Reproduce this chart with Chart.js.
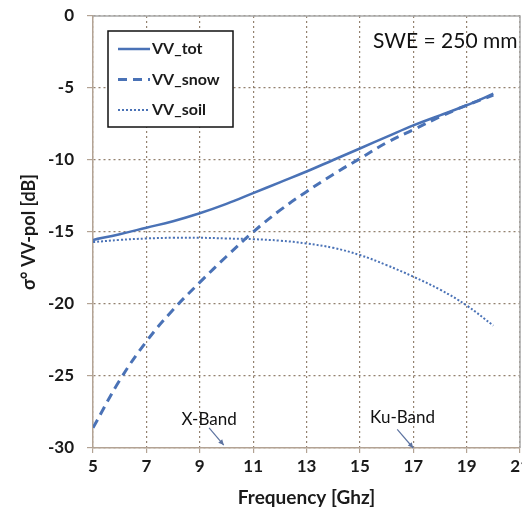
<!DOCTYPE html>
<html>
<head>
<meta charset="utf-8">
<script src="https://cdn.jsdelivr.net/npm/chart.js@4.4.0/dist/chart.umd.min.js"></script>
<style>
  body { margin: 0; background: #fff; }
</style>
</head>
<body>
<canvas id="chart" width="522" height="520"></canvas>
<script>
// Backscatter vs frequency, SWE = 250 mm
const freqs  = [5, 6, 7, 8, 9, 10, 11, 12, 13, 14, 15, 16, 17, 18, 19, 20];
const vvTot  = [-15.55, -15.15, -14.7, -14.25, -13.7, -13.05, -12.3, -11.55, -10.8, -10.0, -9.2, -8.4, -7.6, -6.9, -6.2, -5.4];
const vvSnow = [-28.6, -25.3, -22.6, -20.4, -18.5, -16.7, -15.0, -13.5, -12.2, -11.0, -9.9, -8.8, -7.9, -7.0, -6.2, -5.5];
const vvSoil = [-15.7, -15.55, -15.45, -15.4, -15.4, -15.45, -15.5, -15.6, -15.8, -16.1, -16.6, -17.3, -18.1, -19.0, -20.1, -21.5];
const xTicks = [5, 7, 9, 11, 13, 15, 17, 19, 21];
const yTicks = [0, -5, -10, -15, -20, -25, -30];

const BLUE = '#4a72b6';
const GRID = 'rgba(135,115,95,0.9)';
const AXIS = '#b3a394';
const FONT = 'Lato, "Open Sans", sans-serif';

Chart.defaults.font.family = FONT;
Chart.defaults.color = '#1a1a1a';

function points(ys) {
    return freqs.map((f, i) => ({ x: f, y: ys[i] }));
}

// frame, in-plot legend and text labels
const extras = {
    id: 'extras',
    afterDatasetsDraw(chart) {
        const { ctx, chartArea: a, scales: { x, y } } = chart;
        ctx.save();

        // top and right edges of the plot box
        ctx.strokeStyle = '#a9a9a9';
        ctx.lineWidth = 1.5;
        ctx.beginPath();
        ctx.moveTo(a.left, a.top);
        ctx.lineTo(a.right, a.top);
        ctx.lineTo(a.right, a.bottom);
        ctx.stroke();

        // legend box
        const lx = a.left + 15, ly = a.top + 15, lw = 125, lh = 96;
        ctx.fillStyle = '#fff';
        ctx.fillRect(lx, ly, lw, lh);
        ctx.strokeStyle = '#111';
        ctx.lineWidth = 1.5;
        ctx.strokeRect(lx, ly, lw, lh);
        ctx.font = 'bold 16px ' + FONT;
        ctx.textBaseline = 'middle';
        ctx.textAlign = 'left';
        chart.data.datasets.forEach((ds, i) => {
            const rowY = ly + 18 + i * 30.5;
            ctx.strokeStyle = ds.borderColor;
            ctx.lineWidth = ds.borderWidth;
            ctx.setLineDash(ds.borderDash || []);
            ctx.beginPath();
            ctx.moveTo(lx + 10, rowY);
            ctx.lineTo(lx + 42, rowY);
            ctx.stroke();
            ctx.setLineDash([]);
            ctx.fillStyle = '#1a1a1a';
            ctx.fillText(ds.label, lx + 44, rowY);
        });

        // SWE label
        ctx.font = '21px ' + FONT;
        ctx.textAlign = 'center';
        ctx.fillStyle = '#111';
        ctx.fillText('SWE = 250 mm', x.getPixelForValue(18.2), y.getPixelForValue(-1.75));

        // band markers with arrows
        const bands = [
            { text: 'X-Band', tx: 9.35, ty: -28.05, from: [9.35, -28.6], to: [9.9, -29.8] },
            { text: 'Ku-Band', tx: 16.6, ty: -27.9, from: [16.4, -28.7], to: [17.0, -30] }
        ];
        ctx.font = '17px ' + FONT;
        bands.forEach(b => {
            ctx.fillStyle = '#111';
            ctx.fillText(b.text, x.getPixelForValue(b.tx), y.getPixelForValue(b.ty));
            const x1 = x.getPixelForValue(b.from[0]), y1 = y.getPixelForValue(b.from[1]);
            const x2 = x.getPixelForValue(b.to[0]), y2 = y.getPixelForValue(b.to[1]);
            ctx.strokeStyle = '#5d73a0';
            ctx.fillStyle = '#5d73a0';
            ctx.lineWidth = 1.2;
            ctx.beginPath();
            ctx.moveTo(x1, y1);
            ctx.lineTo(x2, y2);
            ctx.stroke();
            const ang = Math.atan2(y2 - y1, x2 - x1);
            ctx.beginPath();
            ctx.moveTo(x2, y2);
            ctx.lineTo(x2 - 6 * Math.cos(ang - 0.45), y2 - 6 * Math.sin(ang - 0.45));
            ctx.lineTo(x2 - 6 * Math.cos(ang + 0.45), y2 - 6 * Math.sin(ang + 0.45));
            ctx.closePath();
            ctx.fill();
        });
        ctx.restore();
    }
};

new Chart(document.getElementById('chart'), {
    type: 'line',
    data: {
        datasets: [
            {
                label: 'VV_tot',
                data: points(vvTot),
                borderColor: BLUE,
                borderWidth: 2.5,
                pointRadius: 0,
                tension: 0.4
            },
            {
                label: 'VV_snow',
                data: points(vvSnow),
                borderColor: BLUE,
                borderWidth: 3,
                borderDash: [9, 6],
                pointRadius: 0,
                tension: 0.4
            },
            {
                label: 'VV_soil',
                data: points(vvSoil),
                borderColor: BLUE,
                borderWidth: 2,
                borderDash: [2, 2],
                pointRadius: 0,
                tension: 0.4
            }
        ]
    },
    options: {
        responsive: false,
        animation: false,
        layout: { padding: { top: 16, right: 2, left: 0, bottom: 0 } },
        plugins: {
            legend: { display: false },
            tooltip: { enabled: false }
        },
        scales: {
            x: {
                type: 'linear',
                min: 5,
                max: 21,
                afterBuildTicks: (axis) => { axis.ticks = xTicks.map(v => ({ value: v })); },
                afterFit: (axis) => { axis.height = 72; axis.paddingLeft = 0; axis.paddingRight = 0; },
                ticks: { font: { size: 17, weight: 'bold' }, padding: 3, maxRotation: 0, autoSkip: false },
                grid: { color: GRID, lineWidth: 1.2, tickLength: 5, tickColor: AXIS, tickBorderDash: [] },
                border: { color: AXIS, width: 1.5, dash: [2, 3] },
                title: {
                    display: true,
                    text: 'Frequency [Ghz]',
                    font: { size: 19, weight: 'bold' },
                    padding: { top: 0, bottom: 11 }
                }
            },
            y: {
                min: -30,
                max: 0,
                afterBuildTicks: (axis) => { axis.ticks = yTicks.map(v => ({ value: v })); },
                afterFit: (axis) => { axis.width = 93; axis.paddingTop = 0; axis.paddingBottom = 0; },
                ticks: { font: { size: 17, weight: 'bold' }, padding: 13 },
                grid: { color: GRID, lineWidth: 1.2, tickLength: 6, tickColor: AXIS, tickBorderDash: [] },
                border: { color: AXIS, width: 1.5, dash: [2, 3] },
                title: {
                    display: true,
                    text: 'σ° VV-pol [dB]',
                    font: { size: 18, weight: 'bold' },
                    padding: { top: 18, bottom: 0 }
                }
            }
        }
    },
    plugins: [extras]
});
</script>
</body>
</html>
